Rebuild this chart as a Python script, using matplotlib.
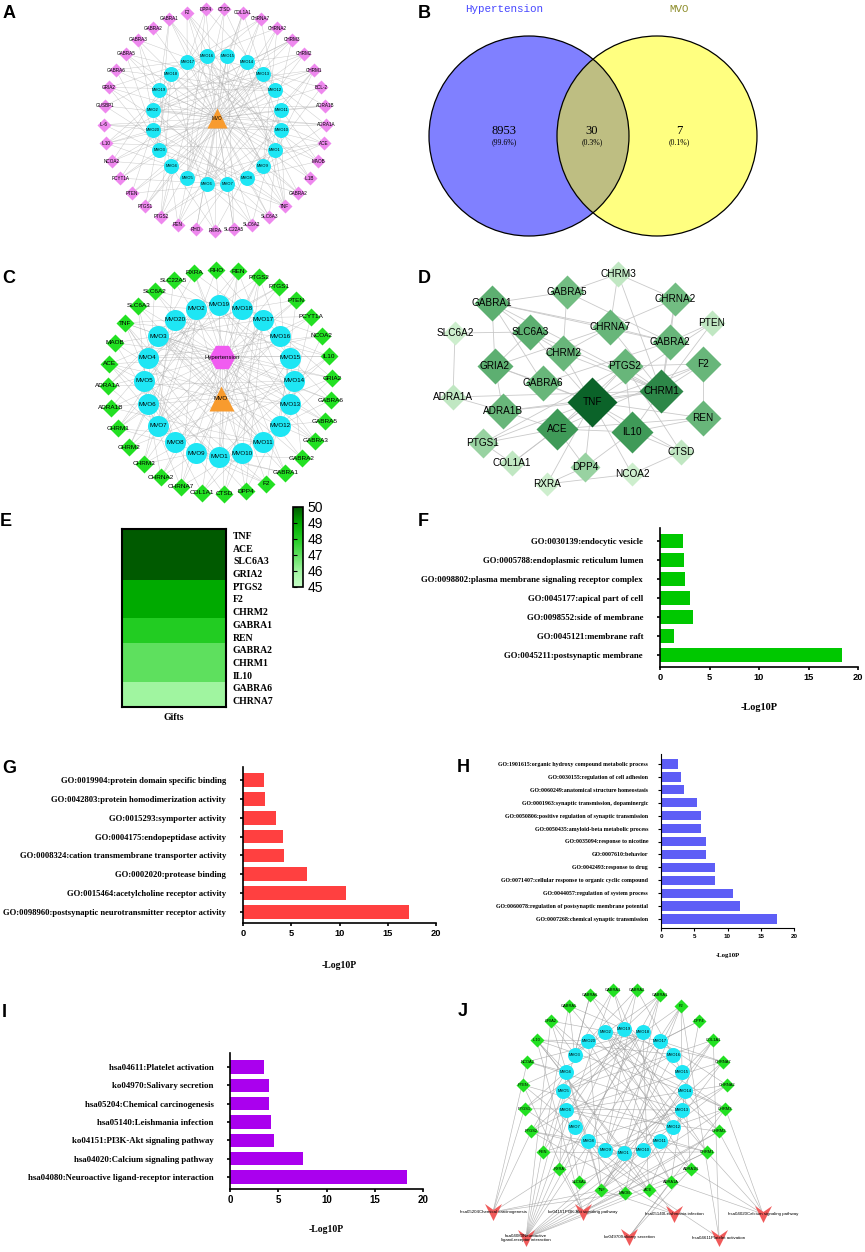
import matplotlib.pyplot as plt
import numpy as np
from matplotlib.collections import LineCollection
from matplotlib.colors import LinearSegmentedColormap
from matplotlib.patches import Circle

plt.rcParams['font.family'] = ['Liberation Sans', 'DejaVu Sans']
SERIF = ['Liberation Serif', 'DejaVu Serif']
MONO = ['Liberation Mono', 'DejaVu Sans Mono']

W, H = 865, 1252

# ---------------- data ----------------
compound_targets = {
    "MVO1": ["TNF", "IL10", "ACE", "PTGS2", "CHRM1", "GABRA1", "REN", "F2"],
    "MVO2": ["CHRM1", "CHRM2", "CHRM3", "CHRNA7", "ADRA1A", "ADRA1B", "SLC6A3"],
    "MVO3": ["GABRA1", "GABRA2", "GABRA3", "GABRA5", "GABRA6", "GRIA2"],
    "MVO4": ["PTGS1", "PTGS2", "TNF", "IL10", "NCOA2", "RXRA"],
    "MVO5": ["ACE", "REN", "CTSD", "DPP4", "F2", "COL1A1"],
    "MVO6": ["CHRNA2", "CHRNA7", "CHRM1", "CHRM2", "SLC6A2", "SLC6A3"],
    "MVO7": ["PTEN", "PCYT1A", "SLC22A5", "RHO", "IL-6", "GUSBP1"],
    "MVO8": ["TNF", "ACE", "GRIA2", "SLC6A3", "MAOB", "ADRA1A"],
    "MVO9": ["GABRA1", "GABRA2", "CHRM3", "CHRNA2", "F2", "BCL-2"],
    "MVO10": ["IL1B", "IL-6", "TNF", "PTGS2", "COL1A1", "CTSD"],
    "MVO11": ["MAOB", "SLC6A2", "SLC6A3", "ADRA1B", "CHRM1", "RXRA"],
    "MVO12": ["GABRA3", "GABRA5", "GABRA6", "CHRNA7", "GRIA2", "PTEN"],
    "MVO13": ["ACE", "REN", "DPP4", "NCOA2", "PCYT1A", "PTGS1"],
    "MVO14": ["CHRM2", "CHRM3", "ADRA1A", "ADRA1B", "TNF", "IL10"],
    "MVO15": ["GABRA2", "GABRA6", "SLC22A5", "RHO", "F2", "COL1A1"],
    "MVO16": ["TNF", "PTGS2", "IL10", "BCL-2", "IL1B", "GUSBP1"],
    "MVO17": ["CHRNA2", "CHRNA7", "GRIA2", "MAOB", "CTSD", "DPP4"],
    "MVO18": ["PTGS1", "PTGS2", "ACE", "RXRA", "NCOA2", "PTEN"],
    "MVO19": ["GABRA1", "GABRA3", "GABRA5", "CHRM1", "SLC6A2", "REN"],
    "MVO20": ["CHRM3", "ADRA1A", "IL10", "TNF", "PCYT1A", "IL-6"],
}

# ring orders (clockwise)
a_compounds = ["MVO15", "MVO14", "MVO13", "MVO12", "MVO11", "MVO10", "MVO1", "MVO9", "MVO8", "MVO7",
               "MVO6", "MVO5", "MVO4", "MVO3", "MVO20", "MVO2", "MVO19", "MVO18", "MVO17", "MVO16"]
cj_compounds = ["MVO19", "MVO18", "MVO17", "MVO16", "MVO15", "MVO14", "MVO13", "MVO12", "MVO11", "MVO10",
                "MVO1", "MVO9", "MVO8", "MVO7", "MVO6", "MVO5", "MVO4", "MVO3", "MVO20", "MVO2"]
a_targets = ["CTSD", "COL1A1", "CHRNA7", "CHRNA2", "CHRM3", "CHRM2", "CHRM1", "BCL-2", "ADRA1B", "ADRA1A",
             "ACE", "MAOB", "IL1B", "GABRA2", "TNF", "SLC6A3", "SLC6A2", "SLC22A5", "RXRA", "RHO", "REN",
             "PTGS2", "PTGS1", "PTEN", "PCYT1A", "NCOA2", "IL10", "IL-6", "GUSBP1", "GRIA2", "GABRA6",
             "GABRA5", "GABRA3", "GABRA2", "GABRA1", "F2", "DPP4"]
c_targets = ["RHO", "REN", "PTGS2", "PTGS1", "PTEN", "PCYT1A", "NCOA2", "IL10", "GRIA2", "GABRA6", "GABRA5",
             "GABRA3", "GABRA2", "GABRA1", "F2", "DPP4", "CTSD", "COL1A1", "CHRNA7", "CHRNA2", "CHRM3",
             "CHRM2", "CHRM1", "ADRA1B", "ADRA1A", "ACE", "MAOB", "TNF", "SLC6A3", "SLC6A2", "SLC22A5", "RXRA"]
j_targets = ["GABRA2", "GABRA1", "F2", "DPP4", "COL1A1", "CHRNA7", "CHRNA2", "CHRM3", "CHRM2", "CHRM1",
             "ADRA1B", "ADRA1A", "ACE", "MAOB", "TNF", "SLC6A2", "RXRA", "REN", "PTGS2", "PTGS1", "PTEN",
             "NCOA2", "IL10", "GRIA2", "GABRA5", "GABRA6", "GABRA3"]

venn_names = ["Hypertension", "MVO"]
venn_counts = ["8953", "30", "7"]
venn_pct = ["(99.6%)", "(0.3%)", "(0.1%)"]

ppi_degree = {"TNF": 22, "CHRM1": 18, "ACE": 16, "IL10": 16, "GABRA1": 13, "SLC6A3": 13, "GRIA2": 13,
              "PTGS2": 12, "CHRNA7": 12, "GABRA2": 12, "CHRM2": 12, "GABRA6": 12, "ADRA1B": 12, "REN": 12,
              "F2": 12, "GABRA5": 11, "CHRNA2": 11, "PTGS1": 8, "DPP4": 8, "CHRM3": 5, "PTEN": 5,
              "SLC6A2": 4, "ADRA1A": 5, "CTSD": 5, "COL1A1": 5, "NCOA2": 4, "RXRA": 4}
ppi_edges = [("TNF", g) for g in ["IL10", "ACE", "PTGS2", "CHRM1", "REN", "F2", "PTGS1", "COL1A1", "DPP4",
                                   "CTSD", "NCOA2", "RXRA", "PTEN", "ADRA1B", "GRIA2", "SLC6A3", "CHRM2", "GABRA6"]]
ppi_edges += [("CHRM1", g) for g in ["CHRM2", "CHRM3", "CHRNA7", "CHRNA2", "GABRA2", "ADRA1A", "ADRA1B",
                                     "F2", "PTGS2", "IL10", "SLC6A3", "GABRA1", "PTEN"]]
ppi_edges += [("ACE", g) for g in ["REN", "IL10", "PTGS1", "PTGS2", "F2", "DPP4", "COL1A1", "ADRA1B"]]
ppi_edges += [("IL10", "PTGS2"), ("IL10", "REN"), ("IL10", "CTSD"), ("IL10", "DPP4"),
              ("GABRA1", "GABRA2"), ("GABRA1", "GABRA5"), ("GABRA1", "GABRA6"), ("GABRA1", "GRIA2"),
              ("GABRA1", "SLC6A3"), ("GABRA1", "CHRNA7"), ("GABRA2", "GABRA5"), ("GABRA2", "GABRA6"),
              ("GABRA2", "CHRNA2"), ("GABRA2", "CHRNA7"), ("GABRA2", "PTEN"), ("SLC6A3", "SLC6A2"),
              ("SLC6A3", "GRIA2"), ("SLC6A3", "CHRM2"), ("SLC6A2", "ADRA1A"), ("GRIA2", "ADRA1B"),
              ("GRIA2", "GABRA6"), ("GRIA2", "CHRNA7"), ("CHRNA7", "CHRNA2"), ("CHRNA7", "CHRM3"),
              ("CHRNA7", "CHRM2"), ("PTGS2", "PTGS1"), ("PTGS2", "F2"), ("PTGS2", "CTSD"), ("F2", "REN"),
              ("DPP4", "RXRA"), ("NCOA2", "CTSD"), ("NCOA2", "RXRA"), ("GABRA5", "CHRM3"),
              ("CHRNA2", "CHRM3"), ("ADRA1A", "ADRA1B"), ("PTGS1", "COL1A1"), ("CHRM2", "GABRA5")]

hub_genes = ["TNF", "ACE", "SLC6A3", "GRIA2", "PTGS2", "F2", "CHRM2", "GABRA1", "REN",
             "GABRA2", "CHRM1", "IL10", "GABRA6", "CHRNA7"]
hub_scores = [50, 50, 50, 50, 49, 49, 49, 48, 48, 47, 47, 47, 46, 46]

cc_terms = ["GO:0030139:endocytic vesicle", "GO:0005788:endoplasmic reticulum lumen",
            "GO:0098802:plasma membrane signaling receptor complex", "GO:0045177:apical part of cell",
            "GO:0098552:side of membrane", "GO:0045121:membrane raft", "GO:0045211:postsynaptic membrane"]
cc_values = [2.3, 2.4, 2.5, 3.0, 3.35, 1.4, 18.4]

mf_terms = ["GO:0019904:protein domain specific binding", "GO:0042803:protein homodimerization activity",
            "GO:0015293:symporter activity", "GO:0004175:endopeptidase activity",
            "GO:0008324:cation transmembrane transporter activity", "GO:0002020:protease binding",
            "GO:0015464:acetylcholine receptor activity",
            "GO:0098960:postsynaptic neurotransmitter receptor activity"]
mf_values = [2.2, 2.3, 3.4, 4.1, 4.3, 6.6, 10.7, 17.2]

bp_terms = ["GO:1901615:organic hydroxy compound metabolic process", "GO:0030155:regulation of cell adhesion",
            "GO:0060249:anatomical structure homeostasis", "GO:0001963:synaptic transmission, dopaminergic",
            "GO:0050806:positive regulation of synaptic transmission",
            "GO:0050435:amyloid-beta metabolic process", "GO:0035094:response to nicotine",
            "GO:0007610:behavior", "GO:0042493:response to drug",
            "GO:0071407:cellular response to organic cyclic compound",
            "GO:0044057:regulation of system process",
            "GO:0060078:regulation of postsynaptic membrane potential",
            "GO:0007268:chemical synaptic transmission"]
bp_values = [2.6, 3.0, 3.5, 5.4, 6.0, 6.0, 6.7, 6.8, 8.1, 8.1, 10.9, 11.9, 17.5]

kegg_terms = ["hsa04611:Platelet activation", "ko04970:Salivary secretion", "hsa05204:Chemical carcinogenesis",
              "hsa05140:Leishmania infection", "ko04151:PI3K-Akt signaling pathway",
              "hsa04020:Calcium signaling pathway", "hsa04080:Neuroactive ligand-receptor interaction"]
kegg_values = [3.5, 4.0, 4.0, 4.3, 4.6, 7.6, 18.3]

pathway_ids = ["hsa05204", "ko04151", "hsa05140", "hsa04020", "hsa04080", "ko04970", "hsa04611"]
pathway_labels = ["hsa05204Chemical carcinogenesis", "ko04151PI3K-Akt signaling pathway",
                  "hsa05140Leishmania infection", "hsa04020Calcium signaling pathway",
                  "hsa04080Neuroactive\nligand-receptor interaction", "ko04970Salivary secretion",
                  "hsa04611Platelet activation"]
pathway_genes = {
    "hsa05204": ["PTGS2", "PTGS1", "RXRA", "NCOA2", "TNF", "MAOB"],
    "ko04151": ["PTEN", "COL1A1", "CHRM1", "CHRM2", "IL10", "RXRA"],
    "hsa05140": ["TNF", "IL10", "PTGS2"],
    "hsa04020": ["CHRM1", "CHRM2", "CHRM3", "ADRA1A", "ADRA1B"],
    "hsa04080": ["GABRA1", "GABRA2", "GABRA3", "GABRA5", "GABRA6", "GRIA2", "CHRM1", "CHRM2", "CHRM3",
                 "CHRNA2", "CHRNA7", "ADRA1A", "ADRA1B", "F2"],
    "ko04970": ["CHRM3", "ADRA1A", "ADRA1B"],
    "hsa04611": ["PTGS1", "F2", "COL1A1"],
}

# ---------------- layout (pixels) ----------------
d_pos = {"CHRM3": (618, 274), "GABRA5": (567, 292), "GABRA1": (492, 303), "CHRNA2": (675, 299),
         "PTEN": (712, 323), "SLC6A2": (455, 333), "SLC6A3": (530, 332), "CHRNA7": (610, 327),
         "GABRA2": (670, 342), "CHRM2": (563, 353), "GRIA2": (495, 366), "PTGS2": (625, 366),
         "F2": (703, 364), "GABRA6": (543, 383), "CHRM1": (661, 391), "TNF": (592, 402),
         "ADRA1A": (453, 397), "ADRA1B": (503, 411), "REN": (703, 418), "ACE": (557, 429),
         "IL10": (632, 432), "PTGS1": (483, 443), "CTSD": (681, 452), "COL1A1": (512, 463),
         "DPP4": (585, 467), "NCOA2": (632, 474), "RXRA": (547, 484)}
path_pos = {"hsa05204": (493, 1212), "ko04151": (583, 1212), "hsa05140": (674, 1214),
            "hsa04020": (763, 1214), "hsa04080": (526, 1238), "ko04970": (629, 1237),
            "hsa04611": (719, 1238)}

CYAN, VIOLET, GREEN, ORANGE = '#1ee6f4', '#ee88ee', '#22e022', '#f89b2e'
EDGE = '#a8a8a8'
DIAMOND = 0.72 / 1.414

fig = plt.figure(figsize=(W / 100, H / 100), dpi=100)
canvas = fig.add_axes([0, 0, 1, 1])
canvas.set_xlim(0, W)
canvas.set_ylim(H, 0)
canvas.axis('off')


def px_axes(x0, y0, x1, y1):
    return fig.add_axes([x0 / W, 1 - y1 / H, (x1 - x0) / W, (y1 - y0) / H])


def ring(names, cx, cy, rx, ry, start):
    ang = np.deg2rad(start - 360.0 / len(names) * np.arange(len(names)))
    pts = list(zip(cx + rx * np.cos(ang), cy - ry * np.sin(ang)))
    lookup = {}
    for n, p in zip(names, pts):
        lookup.setdefault(n, p)
    return pts, lookup


def draw_edges(segs, color=EDGE, lw=0.35, alpha=0.6):
    canvas.add_collection(LineCollection(segs, colors=color, linewidths=lw, alpha=alpha, zorder=1))


def draw_nodes(pts, labels, marker, ms, face, fs, z=3):
    xs, ys = zip(*pts)
    canvas.plot(xs, ys, ls='none', marker=marker, ms=ms, mfc=face, mec='none', zorder=z)
    for (x, y), t in zip(pts, labels):
        canvas.text(x, y, t, fontsize=fs, ha='center', va='center', zorder=z + 1)


def compound_edges(cpos, tpos):
    segs = []
    for c, p in cpos.items():
        for t in compound_targets[c]:
            if t in tpos:
                segs.append([p, tpos[t]])
    return segs


hexagon = [(-1, 0), (-0.5, 0.9), (0.5, 0.9), (1, 0), (0.5, -0.9), (-0.5, -0.9)]
chevron = [(-1, 1), (0, -1), (1, 1), (0, 0.3)]

# ---- A ----
a_in_pts, a_in = ring(a_compounds, 217, 120, 65, 65, 81)
a_out_pts, a_out = ring(a_targets, 215, 120, 111, 111, 90 - 180 / 37)
a_center = (217, 118)
draw_edges(compound_edges(a_in, a_out) + [[a_center, p] for p in a_in_pts] +
           [[a_center, p] for p in a_out_pts])
draw_nodes(a_out_pts, a_targets, 'D', 14 * DIAMOND, VIOLET, 3.3)
draw_nodes(a_in_pts, a_compounds, 'o', 15 * 0.72, CYAN, 3.0)
draw_nodes([a_center], ["MVO"], '^', 20 * 0.72, ORANGE, 3.3)

# ---- B (Venn) ----
vl, vr, vrad = (529, 136), (657, 136), 100
left = Circle(vl, vrad, fc='#8080ff', ec='none', zorder=1)
right = Circle(vr, vrad, fc='#ffff80', ec='none', zorder=1)
canvas.add_patch(left)
canvas.add_patch(right)
lens = Circle(vl, vrad, fc='#bebe82', ec='none', zorder=1.5)
canvas.add_patch(lens)
lens.set_clip_path(right)
for c in (vl, vr):
    canvas.add_patch(Circle(c, vrad, fc='none', ec='black', lw=0.9, zorder=2))
canvas.text(504, 9, venn_names[0], color='#4646ff', fontsize=7.8, family=MONO, ha='center', va='center')
canvas.text(679, 9, venn_names[1], color='#8c8c28', fontsize=7.8, family=MONO, ha='center', va='center')
for x, n, p in zip((504, 592, 679), venn_counts, venn_pct):
    canvas.text(x, 131, n, fontsize=9, family=SERIF, ha='center', va='center', zorder=3)
    canvas.text(x, 142, p, fontsize=5.6, family=SERIF, ha='center', va='center', zorder=3)

# ---- C ----
c_in_pts, c_in = ring(cj_compounds, 219, 381, 75, 76, 90)
c_out_pts, c_out = ring(c_targets, 220, 382, 112, 112, 92)
hyp, mvo = (222, 357), (221, 398)
draw_edges(compound_edges(c_in, c_out) + [[hyp, p] for p in c_out_pts] + [[mvo, p] for p in c_in_pts])
draw_nodes(c_out_pts, c_targets, 'D', 18 * DIAMOND, GREEN, 4.6)
draw_nodes(c_in_pts, cj_compounds, 'o', 21 * 0.72, CYAN, 4.5)
draw_nodes([hyp], ["Hypertension"], hexagon, 26 * 0.72, '#f05cf0', 4.3)
draw_nodes([mvo], ["MVO"], '^', 25 * 0.72, ORANGE, 4.5)

# ---- D (PPI) ----
dmin, dmax = min(ppi_degree.values()), max(ppi_degree.values())
d_cmap = LinearSegmentedColormap.from_list('d', ['#cdeecd', '#7cc48a', '#3f9a58', '#0b6329'])
draw_edges([[d_pos[a], d_pos[b]] for a, b in ppi_edges], color='#c4c4c4', lw=0.6, alpha=0.9)
for g, deg in ppi_degree.items():
    x, y = d_pos[g]
    canvas.plot(x, y, marker='D', ms=(18 + 1.45 * deg) * DIAMOND,
                mfc=d_cmap((deg - dmin) / (dmax - dmin)), mec='none', zorder=3)
    canvas.text(x, y, g, fontsize=7.2, ha='center', va='center', zorder=4)

# ---- J ----
j_in_pts, j_in = ring(cj_compounds, 624, 1091, 61, 62, 90)
j_out_pts, j_out = ring(j_targets, 625, 1091, 102, 102, 90 - 180 / 27)
path_segs = [[path_pos[p], j_out[g]] for p in pathway_ids for g in pathway_genes[p] if g in j_out]
draw_edges(compound_edges(j_in, j_out) + path_segs, color='#9a9a9a', lw=0.45, alpha=0.7)
draw_nodes(j_out_pts, j_targets, 'D', 14 * DIAMOND, GREEN, 2.9)
draw_nodes(j_in_pts, cj_compounds, 'o', 15 * 0.72, CYAN, 3.0)
draw_nodes([path_pos[p] for p in pathway_ids], pathway_labels, chevron, 17 * 0.72, '#f05a5a', 3.2)

# ---- E (heatmap) ----
e_cmap = LinearSegmentedColormap.from_list(
    'e', [(0, '#c8ffc8'), (0.2, '#a0f5a0'), (0.4, '#5ee05e'), (0.6, '#22cc22'), (0.8, '#00aa00'),
          (1, '#005a00')])
ax = px_axes(122, 529, 226, 707)
im = ax.imshow(np.array(hub_scores)[:, None], cmap=e_cmap, vmin=45, vmax=50, aspect='auto')
ax.set_yticks(range(len(hub_genes)), hub_genes, family=SERIF, fontweight='bold', fontsize=7)
ax.yaxis.tick_right()
ax.set_xticks([0], ["Gifts"], family=SERIF, fontweight='bold', fontsize=7)
ax.tick_params(length=0, pad=5)
ax.tick_params(axis='x', pad=4)
for s in ax.spines.values():
    s.set_linewidth(1.5)
cax = px_axes(293, 507, 303, 587)
cb = fig.colorbar(im, cax=cax, ticks=[45, 46, 47, 48, 49, 50])
cb.outline.set_linewidth(1.2)
cax.tick_params(labelsize=10, length=3, direction='in', left=True, right=False, pad=3)


# ---- bar panels ----
def bar_panel(x0, x1, c0, c1, yt, yb, terms, values, color, lab_fs, tick_fs, xl_fs, xl_y, ypad, lw):
    ax = px_axes(x0, yt, x1, yb)
    ax.patch.set_alpha(0)
    step = (c1 - c0) / (len(terms) - 1)
    idx = np.arange(len(terms))
    ax.barh(idx, values, height=0.72, color=color)
    ax.set_xlim(0, 20)
    ax.set_ylim((yb - c0) / step, (yt - c0) / step)
    ax.set_yticks(idx, terms, family=SERIF, fontweight='bold', fontsize=lab_fs)
    ax.set_xticks([0, 5, 10, 15, 20])
    for t in ax.get_xticklabels():
        t.set_fontweight('bold')
        t.set_fontsize(tick_fs)
    for side in ('top', 'right'):
        ax.spines[side].set_visible(False)
    for side in ('left', 'bottom'):
        ax.spines[side].set_linewidth(lw)
    ax.tick_params(axis='y', length=2.2, width=lw, pad=ypad)
    ax.tick_params(axis='x', length=2.5, width=lw, pad=2)
    ax.set_xlabel("-Log10P", family=SERIF, fontweight='bold', fontsize=xl_fs, va='center')
    ax.xaxis.set_label_coords(0.5, (yb - xl_y) / (yb - yt))
    return ax


bar_panel(660, 858, 541, 655, 528, 667, cc_terms, cc_values, '#00c800', 6.3, 6.7, 7.4, 708, 10, 1.2)
bar_panel(243, 436, 780, 912, 767, 923, mf_terms, mf_values, '#ff4040', 6.2, 6.7, 7.0, 965, 10, 1.2)
bar_panel(661, 794, 764, 919, 754, 928, bp_terms, bp_values, '#5e5ef6', 4.2, 4.5, 4.9, 955, 7, 0.8)
bar_panel(230, 423, 1067, 1177, 1053, 1189, kegg_terms, kegg_values, '#aa00ee', 6.3, 7.0, 7.0, 1230, 9.5, 1.2)

# ---- panel letters ----
for letter, (x, y) in zip("ABCDEFGHIJ", [(3, 5), (418, 5), (2, 270), (418, 270), (0, 513), (418, 513),
                                         (2, 760), (457, 759), (2, 1004), (458, 1003)]):
    canvas.text(x, y, letter, fontsize=13, fontweight='bold', ha='left', va='top', zorder=10)

fig.savefig("out.png", dpi=100)
